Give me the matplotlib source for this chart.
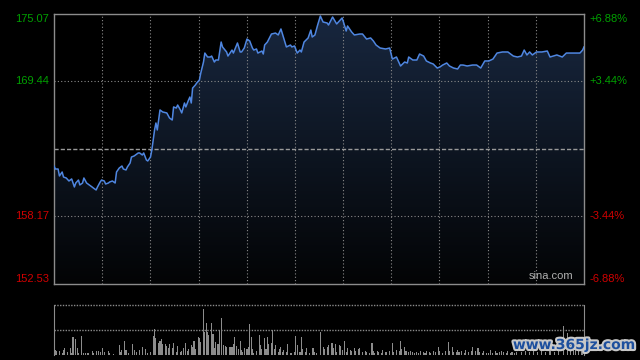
import matplotlib
matplotlib.use("Agg")
import matplotlib.pyplot as plt
import matplotlib.patheffects as pe
from matplotlib.colors import LinearSegmentedColormap
import numpy as np

# 分时数据（分钟序号, 价格）
prev_close = 163.80
price_ticks = [175.07, 169.44, 158.17, 152.53]
pct_labels = ["+6.88%", "+3.44%", "-3.44%", "-6.88%"]
tick_colors = ["#00a000", "#00a000", "#d00000", "#d00000"]

minutes = [0, 1, 3, 4, 6, 7, 9, 11, 13, 15, 16, 18, 19, 21, 22, 24, 26, 28, 29, 31,
           32, 34, 35, 37, 38, 40, 41, 43, 45, 46, 48, 50, 51, 53, 54, 56, 57, 59, 60, 62,
           63, 65, 66, 68, 69, 71, 72, 74, 75, 76, 78, 80, 83, 85, 87, 88, 90, 91, 93, 94,
           96, 97, 99, 100, 101, 102, 104, 105, 107, 108, 110, 111, 113, 115, 116, 118, 119, 121, 123, 124,
           127, 128, 130, 131, 132, 135, 137, 138, 140, 142, 144, 146, 147, 149, 150, 153, 154, 155, 157, 160,
           163, 165, 167, 169, 171, 174, 175, 177, 179, 181, 182, 184, 187, 189, 190, 192, 194, 196, 198, 201,
           202, 205, 208, 210, 212, 213, 215, 216, 219, 221, 225, 227, 230, 233, 235, 237, 240, 244, 247, 249,
           252, 255, 258, 260, 261, 264, 267, 269, 272, 274, 277, 279, 282, 284, 286, 289, 291, 294, 297, 299,
           301, 304, 308, 311, 314, 317, 320, 323, 326, 330, 334, 338, 341, 344, 346, 348, 350, 352, 355, 359,
           363, 365, 370, 374, 377, 381, 385, 387, 389, 390]
prices = [162.38, 162.13, 162.13, 161.55, 161.88, 161.46, 161.38, 161.13, 161.30, 160.63,
          160.96, 161.21, 160.80, 160.96, 161.38, 160.96, 160.80, 160.63, 160.54, 160.38,
          160.63, 161.05, 161.21, 161.13, 160.88, 160.96, 161.05, 161.13, 160.96, 161.88,
          162.21, 162.38, 162.13, 162.05, 162.30, 162.63, 163.13, 163.22, 163.30, 163.47,
          163.47, 163.30, 163.47, 162.88, 162.80, 163.13, 163.72, 165.39, 165.97, 165.39,
          167.06, 166.89, 166.81, 166.39, 166.22, 167.31, 167.22, 167.47, 167.06, 166.81,
          167.64, 167.31, 167.89, 168.14, 167.64, 168.89, 169.14, 169.31, 169.56, 170.14,
          171.06, 171.81, 171.48, 171.48, 171.56, 171.06, 171.23, 171.23, 172.73, 172.32,
          171.90, 171.56, 171.90, 172.06, 171.81, 172.65, 171.90, 171.90, 172.23, 172.98,
          172.82, 172.23, 172.06, 172.15, 171.81, 171.98, 171.73, 172.48, 172.73, 173.40,
          173.48, 173.32, 173.82, 173.07, 172.32, 172.48, 172.32, 172.40, 171.81, 172.06,
          171.90, 172.73, 173.07, 173.73, 173.15, 173.32, 174.15, 174.90, 174.40, 174.32,
          174.15, 174.82, 174.24, 174.49, 174.74, 174.40, 173.65, 174.07, 173.57, 173.32,
          173.40, 173.40, 172.98, 173.07, 172.82, 172.48, 172.23, 172.15, 172.23, 171.31,
          171.48, 170.73, 171.06, 170.98, 171.48, 171.23, 171.23, 171.73, 171.56, 171.15,
          170.98, 170.90, 170.56, 170.65, 170.81, 170.98, 170.73, 170.56, 170.48, 170.81,
          170.81, 170.73, 170.81, 170.81, 170.56, 171.15, 171.15, 171.31, 171.81, 171.90,
          171.90, 171.56, 171.48, 171.56, 172.06, 171.65, 171.90, 171.65, 171.90, 171.90,
          171.98, 171.48, 171.65, 171.48, 171.81, 171.81, 171.81, 171.81, 172.06, 172.32]

# 成交量（分钟序号, 量）
vol_minutes = [1, 2, 4, 6, 7, 8, 10, 12, 13, 14, 16, 17, 18, 20, 22, 23, 25, 28, 29, 31,
               33, 34, 36, 37, 40, 41, 44, 48, 49, 50, 52, 53, 55, 58, 59, 61, 63, 65, 67, 69,
               71, 73, 74, 75, 77, 78, 79, 80, 82, 83, 84, 85, 87, 88, 90, 91, 93, 94, 95, 97,
               98, 99, 101, 102, 103, 104, 106, 107, 108, 110, 111, 112, 113, 114, 116, 117, 118, 119, 120, 121,
               122, 123, 125, 126, 127, 129, 130, 131, 132, 133, 134, 136, 137, 138, 139, 140, 142, 143, 144, 145,
               146, 147, 149, 151, 152, 153, 155, 156, 157, 158, 160, 161, 162, 163, 165, 166, 167, 168, 169, 171,
               172, 174, 175, 177, 178, 179, 181, 182, 183, 185, 186, 188, 190, 191, 192, 193, 196, 198, 199, 201,
               202, 204, 205, 206, 207, 208, 210, 211, 212, 214, 215, 216, 218, 219, 221, 222, 224, 225, 227, 229,
               230, 232, 234, 235, 236, 238, 239, 241, 242, 244, 245, 247, 249, 250, 252, 254, 255, 256, 258, 259,
               261, 262, 264, 265, 267, 268, 270, 272, 273, 274, 276, 277, 279, 281, 283, 284, 286, 288, 290, 291,
               293, 294, 296, 297, 298, 300, 302, 303, 305, 307, 308, 310, 312, 313, 315, 316, 318, 320, 321, 323,
               325, 326, 328, 329, 331, 333, 334, 336, 337, 339, 340, 344, 347, 350, 353, 356, 359, 362, 365, 368,
               371, 375, 378, 380, 382, 384, 386, 388, 389]
volumes = [15, 12, 12, 5, 15, 22, 10, 20, 7, 55, 48, 20, 7, 57, 5, 7, 5, 12, 7, 12,
           12, 10, 22, 10, 12, 5, 3, 30, 10, 15, 42, 15, 5, 33, 15, 10, 15, 23, 17, 7,
           9, 57, 77, 52, 37, 43, 47, 33, 33, 27, 20, 32, 20, 35, 10, 27, 10, 12, 20, 37,
           12, 17, 30, 23, 43, 17, 53, 50, 38, 138, 69, 96, 70, 60, 96, 63, 20, 38, 33, 33,
           75, 110, 30, 28, 25, 25, 23, 25, 32, 53, 27, 17, 43, 15, 8, 20, 17, 25, 93, 53,
           17, 7, 13, 60, 30, 17, 50, 19, 53, 33, 37, 75, 17, 30, 10, 17, 25, 10, 15, 10,
           33, 7, 7, 10, 57, 30, 10, 55, 17, 10, 20, 7, 20, 20, 10, 5, 70, 25, 17, 25,
           30, 37, 35, 20, 33, 10, 30, 27, 15, 43, 10, 20, 15, 13, 20, 12, 17, 22, 9, 13,
           9, 7, 37, 12, 7, 13, 10, 7, 15, 10, 10, 12, 37, 10, 15, 13, 43, 17, 23, 13,
           10, 13, 10, 7, 10, 5, 13, 9, 7, 13, 10, 5, 13, 9, 25, 13, 7, 13, 40, 13,
           23, 10, 10, 15, 9, 13, 7, 15, 9, 13, 25, 13, 20, 10, 7, 13, 7, 7, 15, 7,
           13, 7, 9, 13, 10, 7, 13, 7, 10, 7, 10, 10, 12, 8, 15, 10, 12, 9, 14, 10,
           12, 87, 67, 20, 30, 25, 30, 20, 35]

fig = plt.figure(figsize=(6.4, 3.6), dpi=100, facecolor="black")
plt.rcParams['font.family'] = ['Liberation Sans', 'DejaVu Sans']

ax = fig.add_axes([54 / 640, 76 / 360, 530 / 640, 270 / 360])
ax.set_facecolor("black")
ax.set_xlim(0, 390)
ax.set_ylim(152.53, 175.07)

# 渐变填充
cmap = LinearSegmentedColormap.from_list("fill", ["#030405", "#18273f"])
grad = np.linspace(0, 1, 256).reshape(-1, 1)
img = ax.imshow(grad, cmap=cmap, origin="lower", aspect="auto",
                extent=[0, 390, 152.53, 175.07], zorder=1)
poly = ax.fill_between(minutes, prices, 152.53, color="none", zorder=1)
img.set_clip_path(poly.get_paths()[0], transform=ax.transData)
ax.plot(minutes, prices, color="#4f86e0", linewidth=1.1, zorder=3)

# 网格
for x in np.linspace(0, 390, 12)[1:-1]:
    ax.axvline(x, color="#8a8a8a", linewidth=0.8, linestyle=(0, (1, 2)), zorder=2)
for y in [169.44, 158.17]:
    ax.axhline(y, color="#8a8a8a", linewidth=0.8, linestyle=(0, (1, 2)), zorder=2)
ax.axhline(prev_close, color="#9a9a9a", linewidth=1.0, linestyle=(0, (3, 1.5)), zorder=2)

for s in ax.spines.values():
    s.set_color("#8c8c8c")
    s.set_linewidth(1.0)
ax.set_xticks([])
ax.set_yticks([])

vas = ["top", "center", "center", "bottom"]
for p, lab, c, va in zip(price_ticks, pct_labels, tick_colors, vas):
    ax.text(-3.5, p, f"{p:.2f}", color=c, fontsize=8, ha="right", va=va)
    ax.text(394, p, lab, color=c, fontsize=8, ha="left", va=va)

ax.text(0.98, 0.01, "sina.com", transform=ax.transAxes, color="#b0b0b0",
        fontsize=8, ha="right", va="bottom")

# 成交量
vax = fig.add_axes([54 / 640, 5 / 360, 530 / 640, 50 / 360])
vax.set_facecolor("black")
vax.set_xlim(0, 390)
vax.set_ylim(0, 150)
vax.bar(vol_minutes, volumes, width=0.8, color="#8c8c8c")
vax.axhline(150, color="#8a8a8a", linewidth=1.0, linestyle=(0, (1, 1)), clip_on=False)
vax.axhline(75, color="#8a8a8a", linewidth=1.0, linestyle=(0, (1, 1)))
for k in ["top", "bottom"]:
    vax.spines[k].set_visible(False)
for k in ["left", "right"]:
    vax.spines[k].set_color("#8c8c8c")
vax.set_xticks([])
vax.set_yticks([])

fig.text(574 / 640, 15 / 360, "www.365jz.com", color="#1d4f9e", fontsize=10,
         fontweight="bold", ha="center", va="center", family="DejaVu Sans",
         path_effects=[pe.withStroke(linewidth=3, foreground="#c8c8c8")])

fig.savefig("out.png", dpi=100, facecolor="black")
